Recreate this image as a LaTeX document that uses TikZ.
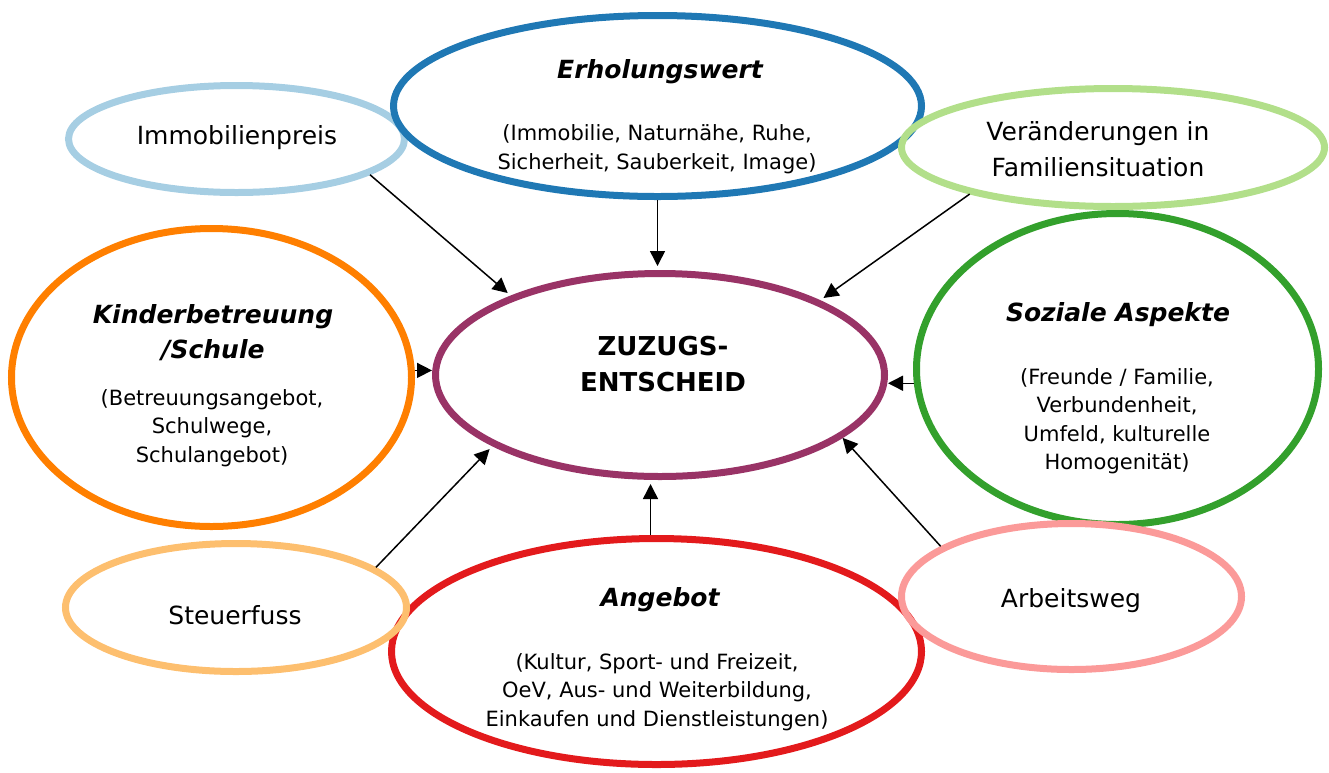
\documentclass[tikz,border=0pt]{standalone}
\usepackage{fontspec}
\setmainfont{DejaVu Sans}
\definecolor{zzlblue}{RGB}{166,206,227}
\definecolor{zzblue}{RGB}{31,120,180}
\definecolor{zzlgreen}{RGB}{178,223,138}
\definecolor{zzgreen}{RGB}{51,160,44}
\definecolor{zzpink}{RGB}{251,154,153}
\definecolor{zzred}{RGB}{227,26,28}
\definecolor{zzlorange}{RGB}{253,191,111}
\definecolor{zzorange}{RGB}{255,127,0}
\definecolor{zzpurple}{RGB}{153,51,102}
\usetikzlibrary{shapes.geometric, arrows.meta}

\begin{document}
\begin{tikzpicture}[
    x=1pt, y=-1pt,
    factor/.style={ellipse, draw, line width=7pt, inner sep=0pt},
    big/.style={font=\fontsize{25}{36}\selectfont, align=center},
    title/.style={font=\fontsize{25}{35}\selectfont\bfseries\itshape, align=center},
    body/.style={font=\fontsize{21}{28.5}\selectfont, align=center},
    arrow/.style={-{Triangle[length=15pt, width=15pt]}, line width=1.5pt, shorten >=4pt},
]
\useasboundingbox (0,0) rectangle (1329,772);

% ellipses, top row
\node[factor, draw=zzlblue, minimum width=336pt, minimum height=107pt] (immo) at (236.5,139) {};
\node[factor, draw=zzblue, minimum width=528pt, minimum height=181pt] (erh) at (657.5,106) {};
\node[factor, draw=zzlgreen, minimum width=423pt, minimum height=118pt] (ver) at (1113,147.5) {};

% middle row
\node[factor, draw=zzorange, minimum width=400pt, minimum height=298pt] (kin) at (211.5,377.5) {};
\node[factor, draw=zzpurple, minimum width=449pt, minimum height=203pt] (zuz) at (660,375) {};
\node[factor, draw=zzgreen, minimum width=402pt, minimum height=311pt] (soz) at (1117.5,369) {};

% bottom row
\node[factor, draw=zzred, minimum width=530pt, minimum height=226pt] (ang) at (656.5,651.5) {};
\node[factor, draw=zzlorange, minimum width=341pt, minimum height=128pt] (steuer) at (236,607.5) {};
\node[factor, draw=zzpink, minimum width=340pt, minimum height=146pt] (arb) at (1071.5,596.5) {};

% texts
\node[big] (immotext) at (237,138) {Immobilienpreis};
\node[title] (erhtitle) at (660,72) {Erholungswert};
\node[body] (erhbody) at (657,149) {(Immobilie, Naturnähe, Ruhe,\\Sicherheit, Sauberkeit, Image)};
\node[big] (vertext) at (1098,149) {Veränderungen in\\Familiensituation};
\node[title] (kintitle) at (213,333) {Kinderbetreuung\\/Schule};
\node[body] (kinbody) at (212,428) {(Betreuungsangebot,\\Schulwege,\\Schulangebot)};
\node[font=\fontsize{26}{36}\selectfont\bfseries, align=center] (zuztext) at (663,364) {ZUZUGS-\\ENTSCHEID};
\node[title] (soztitle) at (1118,315) {Soziale Aspekte};
\node[body] (sozbody) at (1117,421) {(Freunde / Familie,\\Verbundenheit,\\Umfeld, kulturelle\\Homogenität)};
\node[big] (steuertext) at (235,615) {Steuerfuss};
\node[title] (angtitle) at (660,600) {Angebot};
\node[body] (angbody) at (657,692) {(Kultur, Sport- und Freizeit,\\OeV, Aus- und Weiterbildung,\\Einkaufen und Dienstleistungen)};
\node[big] (arbtext) at (1071,601) {Arbeitsweg};

% arrows into the decision
\draw[arrow] (immo.-15) -- (zuz.152);
\draw[arrow] (erh.south) -- (erh.south |- zuz.north);
\draw[arrow] (ver.198) -- (zuz.25);
\draw[arrow, shorten >=0pt] (kin.2) -- (kin.2 -| zuz.west);
\draw[arrow, shorten >=0pt] (soz.-176) -- (soz.-176 -| zuz.east);
\draw[arrow] (steuer.16) -- (zuz.203);
\draw[arrow] ([xshift=-6pt]ang.north) -- ([xshift=-6pt]ang.north |- zuz.south);
\draw[arrow, shorten >=0pt] (arb.159) -- (zuz.-19);

\end{tikzpicture}
\end{document}
